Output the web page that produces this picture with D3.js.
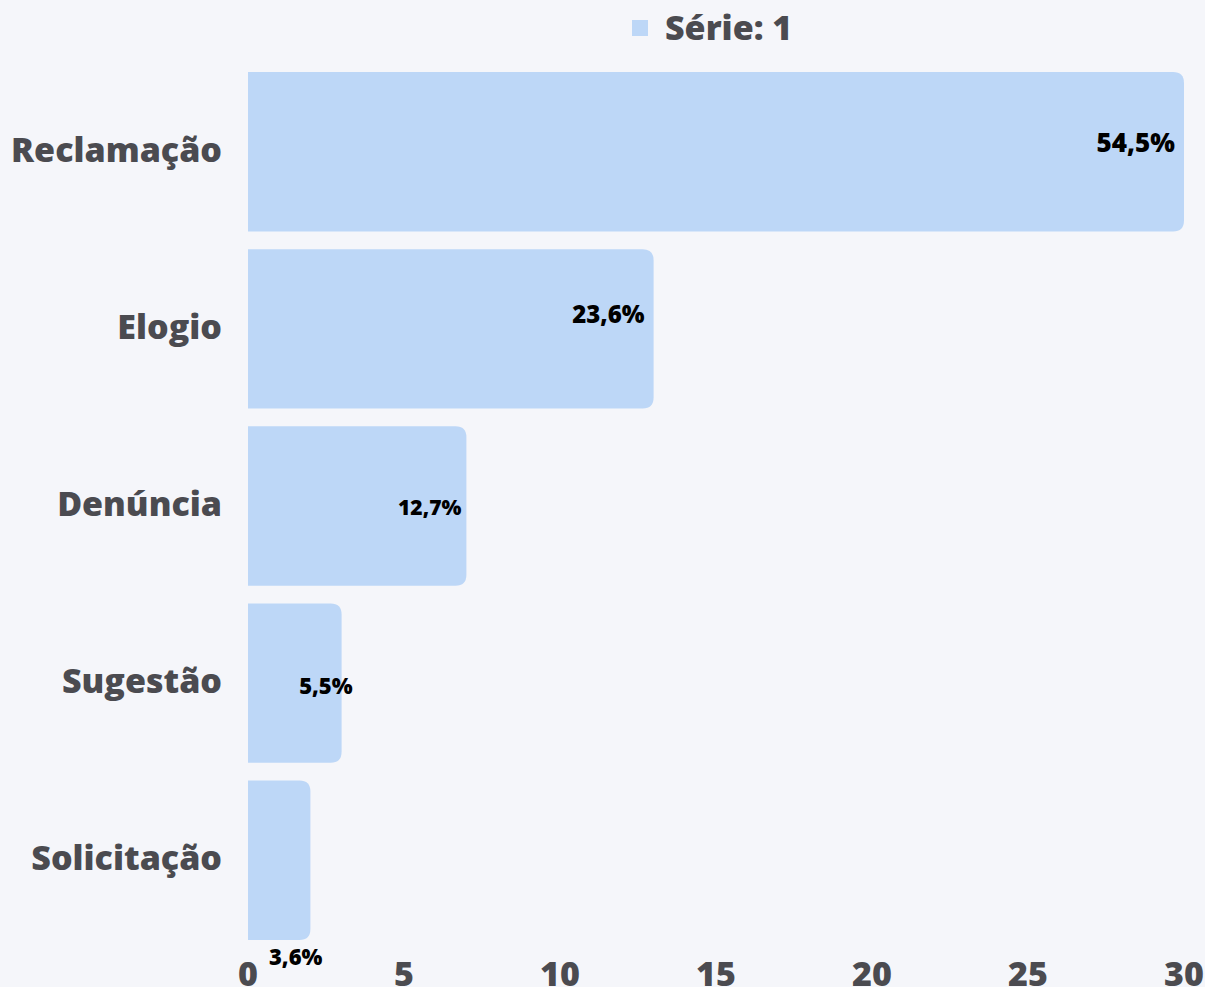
<!DOCTYPE html>
<html>
<head>
<meta charset="utf-8">
<script src="https://cdn.jsdelivr.net/npm/d3@7"></script>
<style>
  html, body { margin: 0; padding: 0; background: #f5f6fa; }
  svg { display: block; }
</style>
</head>
<body>
<svg id="chart" width="1205" height="987"></svg>
<script>
const categories = ["Reclamação", "Elogio", "Denúncia", "Sugestão", "Solicitação"];
const values = [30, 13, 7, 3, 2];
const percentLabels = ["54,5%", "23,6%", "12,7%", "5,5%", "3,6%"];
const xTicks = [0, 5, 10, 15, 20, 25, 30];
const seriesName = "Série: 1";

// label placement tweaks (offset from bar end, vertical offset from bar centre, font size)
const labelDx = [-9, -9, -5, 11, 12];
const labelDy = [-9, -14, 2, 3, 97];
const labelSize = [26, 24, 21, 22, 22];

let width = 1205;
let height = 987;
let barColor = "#bdd7f7";
let textColor = "#4b4b50";
let fontFamily = "'Open Sans', sans-serif";

let svg = d3.select("#chart");

let x = d3.scaleLinear()
  .domain([0, 30])
  .range([248, 1184]);

let y = d3.scaleBand()
  .domain(categories)
  .range([72, 940])
  .paddingInner(0.1)
  .paddingOuter(0);

function barPath(x0, y0, w, h, r) {
  r = Math.min(r, w, h/2);
  return "M" + x0 + "," + y0 +
    "H" + (x0 + w - r) +
    "Q" + (x0 + w) + "," + y0 + " " + (x0 + w) + "," + (y0 + r) +
    "V" + (y0 + h - r) +
    "Q" + (x0 + w) + "," + (y0 + h) + " " + (x0 + w - r) + "," + (y0 + h) +
    "H" + x0 + "Z";
}

// bars
svg.selectAll(".bar")
  .data(values)
  .enter()
  .append("path")
    .attr("class", "bar")
    .attr("d", function(d, i) { return barPath(x(0), y(categories[i]), x(d) - x(0), y.bandwidth(), 11); })
    .style("fill", barColor);

// value labels
svg.selectAll(".valLabel")
  .data(values)
  .enter()
  .append("text")
    .attr("x", function(d, i) { return x(d) + labelDx[i]; })
    .attr("y", function(d, i) { return y(categories[i]) + y.bandwidth()/2 + labelDy[i]; })
    .attr("dy", "0.35em")
    .text(function(d, i) { return percentLabels[i]; })
    .style("text-anchor", "end")
    .style("font-family", fontFamily)
    .style("font-weight", "800")
    .style("font-size", function(d, i) { return labelSize[i] + "px"; })
    .style("fill", "#000");

// category labels
svg.selectAll(".catLabel")
  .data(categories)
  .enter()
  .append("text")
    .attr("x", 222)
    .attr("y", function(d) { return y(d) + y.bandwidth()/2 - 2; })
    .attr("dy", "0.35em")
    .text(function(d) { return d; })
    .style("text-anchor", "end")
    .style("font-family", fontFamily)
    .style("font-weight", "800")
    .style("font-size", "34px")
    .style("fill", textColor);

// x axis tick labels
svg.selectAll(".xTick")
  .data(xTicks)
  .enter()
  .append("text")
    .attr("x", function(d) { return x(d); })
    .attr("y", 986)
    .text(function(d) { return d; })
    .style("text-anchor", "middle")
    .style("font-family", fontFamily)
    .style("font-weight", "800")
    .style("font-size", "34px")
    .style("fill", textColor);

// legend
svg.append("rect")
  .attr("x", 632)
  .attr("y", 20)
  .attr("width", 16)
  .attr("height", 16)
  .style("fill", barColor);
svg.append("text")
  .attr("x", 665)
  .attr("y", 28)
  .attr("dy", "0.35em")
  .text(seriesName)
  .style("font-family", fontFamily)
  .style("font-weight", "800")
  .style("font-size", "34px")
  .style("fill", textColor);
</script>
</body>
</html>
